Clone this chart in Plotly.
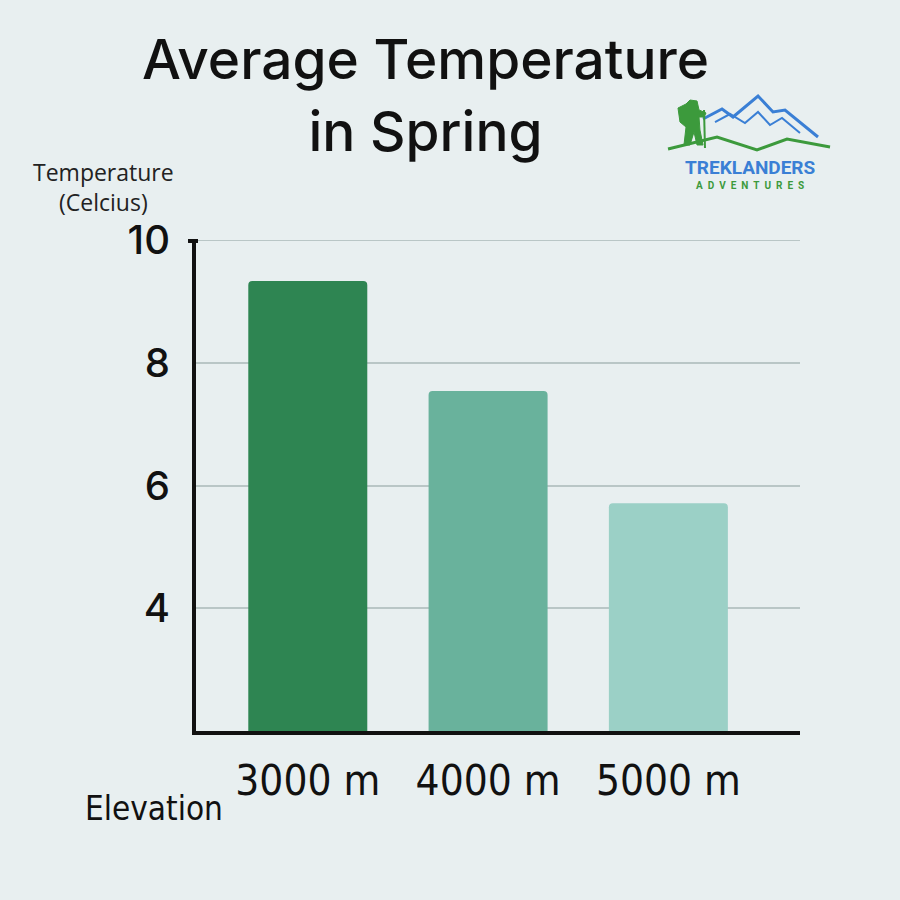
import plotly.graph_objects as go

# --- Data ---
elevations = ["3000 m", "4000 m", "5000 m"]
temps = [9.33, 7.54, 5.71]
bar_colors = ["#2e8552", "#69b29c", "#9bd0c6"]
y_ticks = [4, 6, 8, 10]

BG = "#e8eff0"
W, H = 900, 900
L, R, T, B = 196, 100, 240, 169
NARROW = "Liberation Sans Narrow, DejaVu Sans Condensed, Roboto Condensed, Inter"


def px(x, y):
    # pixel -> paper coords
    return (x - L) / (W - L - R), (H - B - y) / (H - T - B)


def path(points):
    pts = [px(x, y) for x, y in points]
    return "M " + " L ".join(f"{a:.4f},{b:.4f}" for a, b in pts)


fig = go.Figure(go.Bar(
    x=list(range(len(elevations))), y=temps, width=0.66,
    marker=dict(color=bar_colors, cornerradius=4, line=dict(width=0)),
    hoverinfo="skip",
))

fig.update_xaxes(
    range=[-0.62, 2.73], tickvals=list(range(len(elevations))), ticktext=elevations,
    showline=True, linecolor="#111111", linewidth=4, showgrid=False, zeroline=False,
    ticks="outside", ticklen=10, tickcolor="rgba(0,0,0,0)",
    tickfont=dict(family=NARROW, size=42, color="#111111"),
)
fig.update_yaxes(
    range=[2, 10], tickvals=y_ticks,
    showline=True, linecolor="#111111", linewidth=4,
    showgrid=True, gridcolor="#b9c6c6", gridwidth=2, zeroline=False,
    ticks="outside", ticklen=14, tickcolor="rgba(0,0,0,0)",
    tickfont=dict(family="Inter", size=40, color="#111111", weight=500),
)

annotations = [
    dict(text="Average Temperature<br>in Spring", x=px(425, 0)[0], y=px(0, 95)[1],
         font=dict(family="Inter", size=55, color="#111111", weight=500),
         align="center"),
    dict(text="Temperature<br>(Celcius)", x=px(103, 0)[0], y=px(0, 187)[1],
         font=dict(family="Open Sans", size=23, color="#222222"), align="center"),
    dict(text="Elevation", x=px(154, 0)[0], y=px(0, 808)[1],
         font=dict(family=NARROW, size=33, color="#111111")),
    dict(text="<b>TREKLANDERS</b>", x=px(750, 0)[0], y=px(0, 168)[1],
         font=dict(family="Roboto", size=19, color="#3a7fd5", weight=900)),
    dict(text="&nbsp;&nbsp;".join("ADVENTURES"), x=px(750, 0)[0], y=px(0, 185)[1],
         font=dict(family="Roboto", size=10, color="#3c9a3c", weight=700)),
]
for a in annotations:
    a.update(xref="paper", yref="paper", showarrow=False, xanchor="center", yanchor="middle")

shapes = [
    # top gridline at 10
    dict(type="line", xref="paper", yref="y", x0=0, x1=1, y0=10, y1=10,
         line=dict(color="#b9c6c6", width=2), layer="below"),
    # mountains outline
    dict(type="path", path=path([(703, 119), (722, 109), (733, 117), (758, 96),
                                  (773, 112), (785, 110), (818, 137)]),
         line=dict(color="#3a7fd5", width=3)),
    dict(type="path", path=path([(715, 122), (730, 114), (745, 123), (758, 112),
                                  (770, 125), (782, 118), (800, 133)]),
         line=dict(color="#3a7fd5", width=2)),
    # ground line
    dict(type="path", path=path([(668, 149), (717, 137), (757, 150), (787, 139), (830, 147)]),
         line=dict(color="#3c9a3c", width=3)),
    # hiker
    dict(type="path", path=path([(690, 100), (697, 101), (699, 110), (706, 113), (704, 117),
                                  (699, 117), (700, 130), (703, 145), (697, 145), (694, 132),
                                  (690, 145), (684, 145), (686, 127), (680, 122), (678, 108),
                                  (686, 104)]) + " Z",
         fillcolor="#3c9a3c", line=dict(color="#3c9a3c", width=1)),
    dict(type="path", path=path([(704, 110), (705, 148)]),
         line=dict(color="#3c9a3c", width=2)),
    # small hook at the top of the y axis
    dict(type="path", path=path([(188, 241), (198, 241)]),
         line=dict(color="#111111", width=4)),
]
for s in shapes:
    s.setdefault("xref", "paper")
    s.setdefault("yref", "paper")
    s.setdefault("layer", "above")

fig.update_layout(
    width=W, height=H, margin=dict(l=L, r=R, t=T, b=B),
    paper_bgcolor=BG, plot_bgcolor=BG, showlegend=False,
    annotations=annotations, shapes=shapes,
)

fig.write_html(
    "out.html", config={"displayModeBar": False},
    post_script=f"document.body.style.margin='0';document.body.style.background='{BG}';",
)
